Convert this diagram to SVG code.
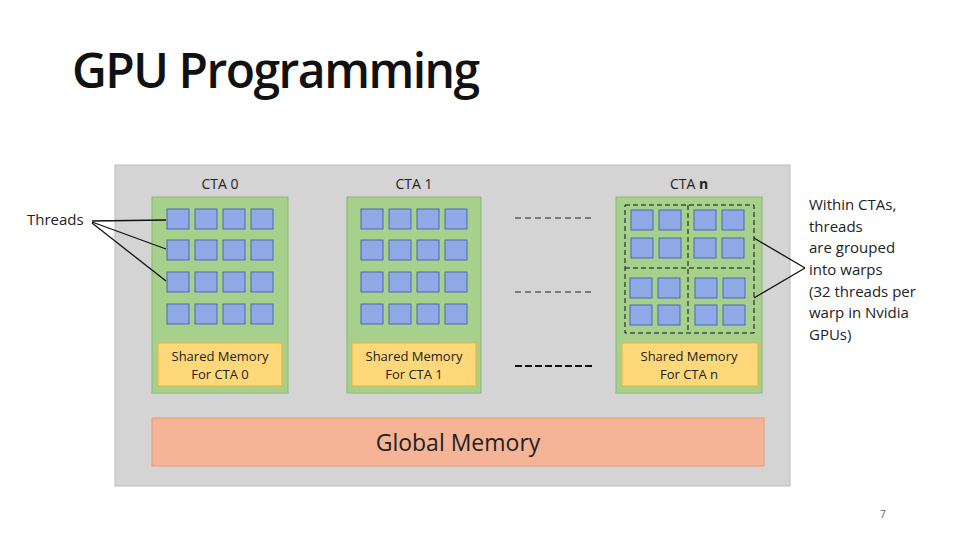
<svg xmlns="http://www.w3.org/2000/svg" width="960" height="540" viewBox="0 0 960 540">
<style>
.t{font-family:"Open Sans","Liberation Sans",sans-serif;fill:#222}
.sq{fill:#8fa8e6;stroke:#4a6ab0;stroke-width:1}
.cta{fill:#a8d08d;stroke:#8cb870;stroke-width:1}
.sm{fill:#ffd87a;stroke:#f0b030;stroke-width:1}
.dash{fill:none;stroke:#111;stroke-width:1;stroke-dasharray:5,3}
.ln{stroke:#111;stroke-width:1.3;fill:none}
</style>
<defs>
<g id="row4"><rect class="sq" x="0" y="0" width="22" height="20"/><rect class="sq" x="28" y="0" width="22" height="20"/><rect class="sq" x="56" y="0" width="22" height="20"/><rect class="sq" x="84" y="0" width="22" height="20"/></g>
</defs>
<rect width="960" height="540" fill="#fff"/>
<text class="t" x="72" y="88" font-size="48" font-weight="600" style="fill:#111;letter-spacing:-1.5px">GPU Programming</text>
<rect x="115" y="165" width="675" height="321" fill="#d4d4d4" stroke="#bbb"/>
<g id="cta0">
<text class="t" x="220" y="189" font-size="14" text-anchor="middle">CTA 0</text>
<rect class="cta" x="152" y="197" width="136" height="196"/>
<use href="#row4" x="167" y="209"/><use href="#row4" x="167" y="240"/><use href="#row4" x="167" y="272"/><use href="#row4" x="167" y="304"/>
<rect class="sm" x="158" y="343" width="124" height="43"/>
<text class="t" x="220" y="361" font-size="13" text-anchor="middle">Shared Memory</text>
<text class="t" x="220" y="379" font-size="13" text-anchor="middle">For CTA 0</text>
</g>
<g id="cta1">
<text class="t" x="414" y="189" font-size="14" text-anchor="middle">CTA 1</text>
<rect class="cta" x="347" y="197" width="134" height="196"/>
<use href="#row4" x="361" y="209"/><use href="#row4" x="361" y="240"/><use href="#row4" x="361" y="272"/><use href="#row4" x="361" y="304"/>
<rect class="sm" x="352" y="343" width="124" height="43"/>
<text class="t" x="414" y="361" font-size="13" text-anchor="middle">Shared Memory</text>
<text class="t" x="414" y="379" font-size="13" text-anchor="middle">For CTA 1</text>
</g>
<g id="ctan">
<text class="t" x="689" y="189" font-size="14" text-anchor="middle">CTA <tspan font-weight="bold">n</tspan></text>
<rect class="cta" x="616" y="197" width="146" height="196"/>
<rect class="sq" x="631" y="210" width="22" height="20"/><rect class="sq" x="659" y="210" width="22" height="20"/><rect class="sq" x="694" y="210" width="22" height="20"/><rect class="sq" x="722" y="210" width="22" height="20"/>
<rect class="sq" x="631" y="238" width="22" height="20"/><rect class="sq" x="659" y="238" width="22" height="20"/><rect class="sq" x="694" y="238" width="22" height="20"/><rect class="sq" x="722" y="238" width="22" height="20"/>
<rect class="sq" x="630" y="278" width="22" height="20"/><rect class="sq" x="658" y="278" width="22" height="20"/><rect class="sq" x="695" y="278" width="22" height="20"/><rect class="sq" x="723" y="278" width="22" height="20"/>
<rect class="sq" x="630" y="305" width="22" height="20"/><rect class="sq" x="658" y="305" width="22" height="20"/><rect class="sq" x="695" y="305" width="22" height="20"/><rect class="sq" x="723" y="305" width="22" height="20"/>
<rect class="dash" x="625" y="205" width="129" height="128"/>
<line class="dash" x1="688" y1="205" x2="688" y2="333"/>
<line class="dash" x1="625" y1="268" x2="754" y2="268"/>
<rect class="sm" x="622" y="343" width="136" height="43"/>
<text class="t" x="689" y="361" font-size="13" text-anchor="middle">Shared Memory</text>
<text class="t" x="689" y="379" font-size="13" text-anchor="middle">For CTA n</text>
</g>
<g id="global">
<rect x="152" y="418" width="612" height="48" fill="#f5b496" stroke="#e89a78"/>
<text class="t" x="458" y="451" font-size="23" text-anchor="middle">Global Memory</text>
</g>
<g id="threads-label"><text class="t" x="27" y="225" font-size="15">Threads</text></g>
<g id="warps-label">
<text class="t" font-size="15" x="809">
<tspan x="809" y="210">Within CTAs,</tspan><tspan x="809" y="232">threads</tspan><tspan x="809" y="253">are grouped</tspan><tspan x="809" y="275">into warps</tspan><tspan x="809" y="297">(32 threads per</tspan><tspan x="809" y="318">warp in Nvidia</tspan><tspan x="809" y="340">GPUs)</tspan></text>
</g>
<g id="connectors">
<line class="ln" x1="92" y1="221" x2="166" y2="220"/>
<line class="ln" x1="92" y1="222" x2="166" y2="249"/>
<line class="ln" x1="92" y1="223" x2="166" y2="281"/>
<line class="ln" x1="805" y1="268" x2="754" y2="238"/>
<line class="ln" x1="805" y1="268" x2="754" y2="298"/>
<line x1="515" y1="218" x2="592" y2="218" stroke="#222" stroke-width="1" stroke-dasharray="6,4"/>
<line x1="515" y1="292" x2="592" y2="292" stroke="#222" stroke-width="1" stroke-dasharray="6,4"/>
<line x1="515" y1="366" x2="592" y2="366" stroke="#111" stroke-width="2" stroke-dasharray="7,3"/>
</g>
<text class="t" x="880" y="518" font-size="10" style="fill:#666">7</text>
</svg>
